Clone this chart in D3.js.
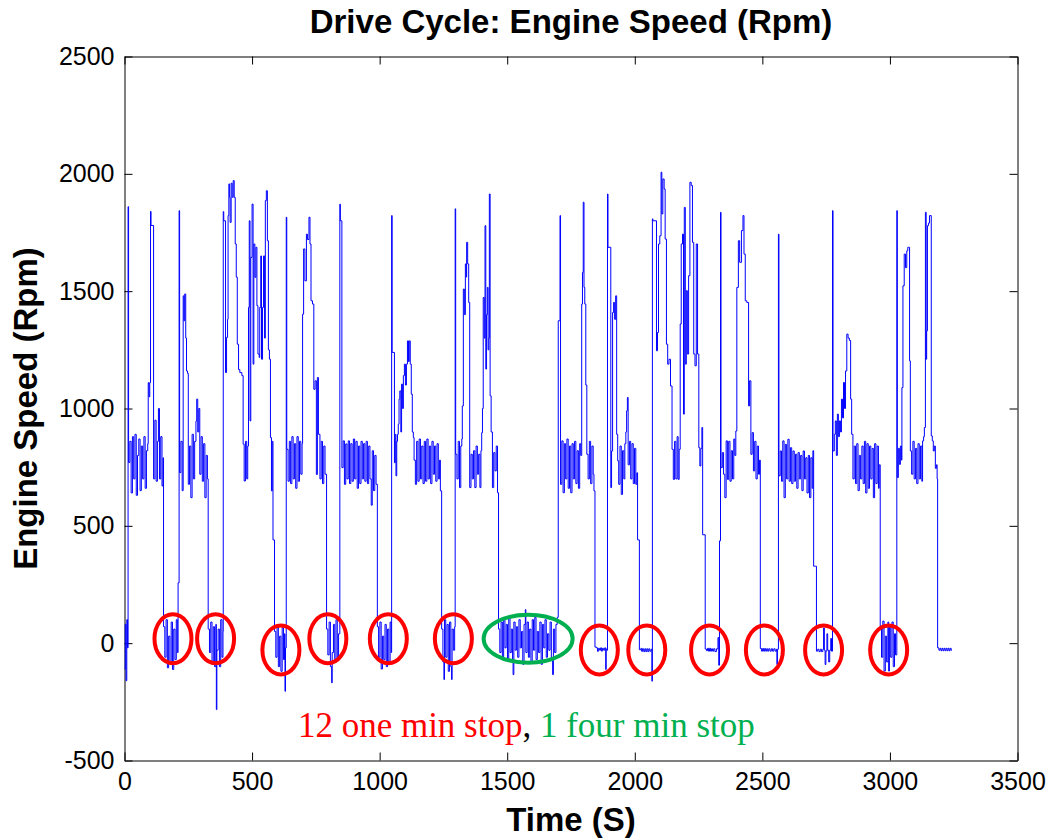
<!DOCTYPE html>
<html>
<head>
	<title>Drive Cycle: Engine Speed</title>
	<script src="https://d3js.org/d3.v7.min.js"></script>
	<style>
		html, body {
			margin: 0px;
			background: #fff;
		}
		text { font-family: "Liberation Sans", Arial, sans-serif; }
	</style>
</head>
<body>

	<div id="chart"></div>

	<script type="text/javascript">

	// engine speed trace, [time (s), rpm]
	var start = [[0,-110],[3,80],[6,-160],[9,100],[12,-20]];

	var run1 = [[14,1860],[16,770],[21,860],[26,640],[31,880],[36,700],[41,890],[46,630],[51,800],[56,870],[61,650],[66,840],[71,700],[76,880],[81,660],[86,820],[91,850],[93,1110],[96,1050],[99,1110],[102,1840],[104,1780],[114,700],[119,950],[124,690],[129,860],[133,1000],[137,700],[142,880],[147,670],[151,790]];

	var stop1 = [[153,70],[158,-60],[163,100],[168,-105],[173,30],[178,-80],[183,90],[188,-112],[193,60],[198,-70],[203,100],[207,-40]];

	var run2 = [[210,257],[214,1843],[216,727],[221,860],[226,650],[230,1480],[233,1374],[236,1488],[240,1300],[243,1160],[247,1150],[250,677],[255,840],[260,620],[265,890],[270,700],[275,860],[280,946],[283,1040],[287,900],[291,1000],[295,720],[300,880],[305,690],[310,850],[315,620],[320,800],[325,700]];

	var stop2 = [[328,60],[333,-40],[338,90],[343,-90],[348,70],[353,-100],[358,80],[360,-283],[362,-30],[367,60],[372,-100],[377,100],[382,-60],[386,50]];

	var run3 = [[387,1839],[389,1800],[396,1153],[400,1303],[404,1380],[406,1822],[409,1957],[412,1900],[414,1793],[418,1960],[422,1900],[426,1971],[430,1900],[434,1701],[438,1560],[442,1274],[447,1166],[452,1153],[460,1140],[465,848],[469,691],[474,860],[479,700],[483,840],[486,1431],[489,1800],[492,947],[495,1644],[500,1871],[504,1189],[507,1701],[511,1559],[515,1687],[519,1438],[523,1232],[528,1217],[530,1431],[534,1650],[537,1210],[541,1431],[545,1650],[549,1300],[552,1886],[556,1928],[560,1715],[564,1250],[568,1210],[572,876],[576,649],[579,860],[582,440]];

	var stop3 = [[588,50],[593,-60],[598,70],[603,-100],[608,30],[613,-120],[618,80],[623,-70],[627,40],[629,-205],[631,-20]];

	var run4 = [[634,1815],[636,826],[641,690],[646,860],[651,680],[656,880],[661,700],[666,850],[671,660],[676,880],[681,690],[686,860],[691,720],[696,850],[698,1402],[702,1680],[707,1544],[713,1743],[717,1720],[723,1815],[727,1701],[731,1459],[737,1445],[742,1082],[747,1118],[752,719],[756,1132],[760,890],[766,700],[771,860],[776,680],[781,840],[786,720]];

	var stop4 = [[792,60],[797,-50],[802,90],[807,-100],[812,-169],[814,-40],[819,80],[824,-80],[829,100],[834,-60],[839,40]];

	var run5 = [[844,1871],[846,1800],[852,748],[857,862],[862,677],[867,849],[872,700],[877,862],[882,680],[887,850],[892,690],[897,870],[902,700],[907,860],[912,660],[917,840],[922,680],[927,860],[932,700],[937,850],[942,690],[947,860],[952,680],[957,840],[962,700],[967,588],[971,820],[976,650],[981,800],[986,677]];

	var stop5 = [[991,70],[996,-60],[1001,90],[1006,-110],[1011,30],[1016,-70],[1021,80],[1026,-100],[1031,60],[1036,-80],[1041,90],[1045,-40]];

	var run6 = [[1047,1822],[1049,1239],[1058,769],[1061,890],[1064,713],[1067,860],[1070,890],[1073,933],[1076,1040],[1079,1075],[1083,900],[1086,1104],[1090,1000],[1093,1140],[1097,1189],[1101,1100],[1105,1189],[1109,1288],[1113,1200],[1116,1288],[1120,1189],[1124,1061],[1128,900],[1132,876],[1135,780],[1140,677],[1145,860],[1150,690],[1155,870],[1160,700],[1165,840],[1170,680],[1175,860],[1180,690],[1185,870],[1190,700],[1195,840],[1200,680],[1205,860],[1210,720],[1215,840],[1220,690],[1225,850],[1230,700],[1235,780],[1238,649]];

	var stop6 = [[1243,60],[1248,-80],[1252,-155],[1254,100],[1259,-60],[1264,80],[1269,-120],[1274,90],[1279,-100],[1282,-155],[1284,60],[1289,-30],[1294,70]];

	var run7 = [[1296,1851],[1298,805],[1303,700],[1308,860],[1313,663],[1318,840],[1322,870],[1324,1011],[1328,1509],[1332,1400],[1336,1616],[1339,1560],[1341,1708],[1345,1616],[1349,1452],[1353,663],[1358,805],[1363,700],[1368,820],[1373,663],[1378,840],[1383,720],[1388,805],[1393,663],[1397,820],[1400,897],[1403,1000],[1406,1473],[1410,1300],[1413,1779],[1416,1168],[1419,1400],[1422,1516],[1425,1250],[1428,1300],[1430,1914],[1433,1054],[1437,900],[1442,663],[1447,812],[1452,734],[1457,840],[1462,641]];

	var longStop = [[1466,60],[1471,-40],[1476,90],[1481,-60],[1486,100],[1491,-20],[1496,80],[1501,-70],[1506,110],[1511,-40],[1516,60],[1521,-80],[1523,-134],[1526,90],[1531,-30],[1536,70],[1541,-60],[1546,100],[1551,-20],[1556,50],[1561,-90],[1566,80],[1571,143],[1573,-40],[1578,90],[1583,-60],[1588,60],[1593,-80],[1598,100],[1603,-30],[1608,110],[1613,-70],[1618,50],[1623,-40],[1628,90],[1633,-90],[1638,80],[1643,-20],[1648,100],[1653,-60],[1658,40],[1663,-30],[1668,90],[1673,-70],[1678,-134],[1681,60],[1686,-40],[1691,80],[1696,110]];

	var run8 = [[1700,1374],[1704,1374],[1707,1822],[1709,677],[1714,862],[1719,641],[1724,850],[1729,700],[1734,870],[1739,660],[1744,840],[1749,641],[1754,850],[1759,700],[1764,860],[1769,680],[1774,820],[1779,660],[1784,850],[1788,800],[1792,1445],[1795,1580],[1798,1879],[1801,1516],[1804,1445],[1808,1100],[1812,805],[1817,700],[1822,860],[1827,680],[1832,840],[1837,720],[1840,649]];

	var stop7 = [[1844,-17],[1850,-20],[1854,-35],[1857,-22],[1862,-30],[1866,-20],[1870,-34],[1873,-22],[1878,-30],[1882,-20],[1886,-112],[1888,-25],[1891,-30]];

	var run9 = [[1893,1914],[1895,1687],[1906,663],[1909,819],[1913,1409],[1917,1452],[1921,1380],[1925,1480],[1929,890],[1933,777],[1937,677],[1942,840],[1947,634],[1952,820],[1957,700],[1961,850],[1965,900],[1968,990],[1971,1047],[1974,760],[1979,860],[1984,700],[1989,850],[1994,680],[1999,830],[2004,677],[2008,726],[2011,440]];

	var stop8 = [[2018,-28],[2024,-22],[2027,-35],[2030,-24],[2035,-36],[2039,-24],[2043,-36],[2047,-24],[2051,-36],[2055,-24],[2059,-34],[2064,-26],[2067,-162]];

	var run10 = [[2069,1808],[2071,1800],[2085,1246],[2089,1324],[2093,1701],[2098,1736],[2103,2007],[2106,1829],[2110,1978],[2115,1935],[2119,1722],[2124,1274],[2129,1189],[2134,1210],[2140,1096],[2146,826],[2151,698],[2156,860],[2161,700],[2166,880],[2170,698],[2174,826],[2178,1360],[2182,1701],[2187,1743],[2191,976],[2194,1857],[2198,1189],[2202,1502],[2206,1232],[2211,1566],[2216,1964],[2221,1950],[2226,1708],[2231,1232],[2236,1182],[2241,1701],[2246,1232],[2251,833],[2255,755],[2259,830],[2263,919],[2266,462]];

	var stop9 = [[2276,-25],[2281,-32],[2285,-22],[2289,-34],[2293,-22],[2297,-34],[2301,-24],[2305,-34],[2309,-24],[2314,-36],[2320,-24],[2326,24],[2329,-94]];

	var run11 = [[2332,436],[2336,1836],[2338,748],[2343,812],[2348,720],[2353,620],[2358,862],[2363,698],[2368,860],[2373,690],[2378,820],[2383,700],[2388,870],[2392,800],[2396,904],[2400,1516],[2406,1715],[2411,1623],[2418,1758],[2424,1822],[2428,1658],[2433,1459],[2439,1452],[2446,1011],[2450,1118],[2455,805],[2460,897],[2465,734],[2470,860],[2475,700],[2480,840],[2485,720],[2489,780]];

	var stop10 = [[2492,-23],[2497,-34],[2501,-23],[2505,-34],[2509,-23],[2513,-34],[2517,-24],[2521,-34],[2525,-24],[2530,-34],[2535,-24],[2540,-34],[2545,-24],[2550,-34],[2555,-26],[2557,-91],[2559,-26]];

	var run12 = [[2563,1743],[2565,713],[2570,819],[2575,690],[2580,862],[2585,620],[2590,847],[2595,700],[2600,869],[2605,690],[2610,833],[2615,680],[2620,819],[2625,690],[2630,805],[2635,660],[2640,812],[2645,700],[2650,800],[2655,650],[2660,819],[2665,700],[2670,790],[2675,640],[2680,800],[2685,620],[2690,790],[2695,660],[2698,820],[2701,328],[2707,328]];

	var stop11 = [[2712,-34],[2717,-26],[2722,-36],[2727,-26],[2732,-36],[2737,-26],[2740,65],[2743,-30],[2746,-91],[2749,-34],[2753,40],[2756,-30],[2760,-80],[2764,-30],[2768,20],[2771,-34]];

	var run13 = [[2775,1843],[2777,819],[2782,890],[2786,947],[2790,800],[2794,976],[2798,880],[2802,947],[2806,900],[2810,1040],[2814,960],[2818,1111],[2822,1000],[2826,1160],[2831,1317],[2836,1300],[2841,1290],[2846,1040],[2850,890],[2855,700],[2860,840],[2865,680],[2870,850],[2875,650],[2880,800],[2885,700],[2890,840],[2895,680],[2900,860],[2905,640],[2910,850],[2915,660],[2920,840],[2925,700],[2930,830],[2935,620],[2940,850],[2945,680],[2950,840],[2955,660],[2958,760]];

	var stop12 = [[2962,60],[2967,-60],[2972,94],[2977,-119],[2982,30],[2987,-80],[2992,90],[2995,-119],[2998,70],[3003,-60],[3008,90],[3013,-100],[3018,40],[3022,-50]];

	var run14 = [[3027,1843],[3029,706],[3033,830],[3037,762],[3041,840],[3045,780],[3047,1089],[3051,1523],[3056,1658],[3061,1600],[3066,1672],[3070,1687],[3074,1687],[3077,1203],[3080,819],[3085,720],[3090,860],[3095,700],[3100,830],[3105,680],[3110,850],[3115,700],[3120,840],[3125,690],[3128,862],[3132,880],[3135,919],[3139,1836],[3142,1210],[3144,1331],[3147,1779],[3151,1790],[3155,1822],[3161,1822],[3162,883],[3166,862],[3170,819],[3174,840],[3178,745],[3182,760],[3185,700]];

	var endStop = [[3187,-20],[3192,-30],[3196,-22],[3200,-32],[3204,-22],[3208,-32],[3212,-22],[3216,-32],[3220,-22],[3224,-32],[3228,-22],[3232,-32],[3236,-22],[3240,-30],[3243,-30]];

	// circled stops [time, rpm]
	var oneMinStops = [[190,19],[357,19],[613,-29],[797,19],[1034,19],[1289,19],[1861,-29],[2047,-29],[2293,-29],[2508,-29],[2740,-29],[2995,-29]];
	var fourMinStop = [[1582,19]];

	var xTicks = [0,500,1000,1500,2000,2500,3000,3500];
	var yTicks = [-500,0,500,1000,1500,2000,2500];

	var trace = [].concat(start, run1, stop1, run2, stop2, run3, stop3, run4, stop4,
		run5, stop5, run6, stop6, run7, longStop, run8, stop7, run9, stop8,
		run10, stop9, run11, stop10, run12, stop11, run13, stop12, run14, endStop);

	var W = 1049, H = 840;
	var pL = 124.5, pR = 1017.5, pT = 56.5, pB = 760.5;

	var svg = d3.select("#chart").append("svg")
		.attr("width", W).attr("height", H)
		.style("display", "block");

	svg.append("rect").attr("width", W).attr("height", H).attr("fill", "#fff");

	var x = d3.scaleLinear().domain([0, 3500]).range([pL, pR]);
	var y = d3.scaleLinear().domain([-500, 2500]).range([pB, pT]);

	// axes, MATLAB style box with inward ticks
	var styleAxis = function(g){
		g.selectAll("text").attr("font-size", 25).attr("fill", "#000");
		g.selectAll("line").attr("stroke", "#000");
		g.select(".domain").attr("stroke", "#000");
	};
	var plain = function(d){ return String(d) };

	svg.append("g").attr("transform", "translate(0," + pB + ")")
		.call(d3.axisBottom(x).tickValues(xTicks).tickFormat(plain).tickSizeInner(-8).tickSizeOuter(0).tickPadding(12))
		.call(styleAxis);
	svg.append("g").attr("transform", "translate(0," + pT + ")")
		.call(d3.axisTop(x).tickValues(xTicks).tickFormat("").tickSizeInner(-8).tickSizeOuter(0))
		.call(styleAxis);
	svg.append("g").attr("transform", "translate(" + pL + ",0)")
		.call(d3.axisLeft(y).tickValues(yTicks).tickFormat(plain).tickSizeInner(-8).tickSizeOuter(0).tickPadding(10))
		.call(styleAxis);
	svg.append("g").attr("transform", "translate(" + pR + ",0)")
		.call(d3.axisRight(y).tickValues(yTicks).tickFormat("").tickSizeInner(-8).tickSizeOuter(0))
		.call(styleAxis);

	var line = d3.line()
		.x(function(d){ return x(d[0]) })
		.y(function(d){ return y(d[1]) })
		.curve(d3.curveStepAfter);

	svg.append("path")
		.datum(trace)
		.attr("d", line)
		.attr("fill", "none")
		.attr("stroke", "#0000ff")
		.attr("stroke-width", 1);

	svg.selectAll("ellipse.one").data(oneMinStops).enter()
		.append("ellipse")
		.attr("class", "one")
		.attr("cx", function(d){ return x(d[0]) })
		.attr("cy", function(d){ return y(d[1]) })
		.attr("rx", 18.5).attr("ry", 24.5)
		.attr("fill", "none")
		.attr("stroke", "#ff0000")
		.attr("stroke-width", 4);

	svg.selectAll("ellipse.four").data(fourMinStop).enter()
		.append("ellipse")
		.attr("class", "four")
		.attr("cx", function(d){ return x(d[0]) })
		.attr("cy", function(d){ return y(d[1]) })
		.attr("rx", 44.5).attr("ry", 24)
		.attr("fill", "none")
		.attr("stroke", "#00b050")
		.attr("stroke-width", 4);

	var note = svg.append("text")
		.attr("x", x(1575)).attr("y", y(-400))
		.attr("text-anchor", "middle")
		.style("font-family", "'Liberation Serif', 'Times New Roman', serif")
		.attr("font-size", 35);
	note.append("tspan").attr("fill", "#ff0000").text("12 one min stop");
	note.append("tspan").attr("fill", "#000").text(", ");
	note.append("tspan").attr("fill", "#00b050").text("1 four min stop");

	svg.append("text")
		.attr("x", (pL + pR) / 2).attr("y", 33)
		.attr("text-anchor", "middle")
		.attr("font-size", 33).attr("font-weight", "bold")
		.text("Drive Cycle: Engine Speed (Rpm)");

	svg.append("text")
		.attr("x", (pL + pR) / 2).attr("y", 831)
		.attr("text-anchor", "middle")
		.attr("font-size", 33).attr("font-weight", "bold")
		.text("Time (S)");

	svg.append("text")
		.attr("transform", "translate(37," + (pT + pB) / 2 + ") rotate(-90)")
		.attr("text-anchor", "middle")
		.attr("font-size", 33).attr("font-weight", "bold")
		.text("Engine Speed (Rpm)");

	</script>
</body>
</html>
